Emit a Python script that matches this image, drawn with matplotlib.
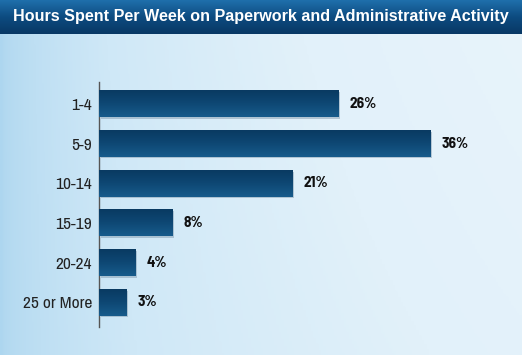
import numpy as np
import matplotlib
matplotlib.use('Agg')
import matplotlib.pyplot as plt
from matplotlib.colors import LinearSegmentedColormap
import matplotlib.transforms as mtransforms

# ---- data
categories = ['1-4', '5-9', '10-14', '15-19', '20-24', '25 or More']
percents = [26, 36, 21, 8, 4, 3]
title = 'Hours Spent Per Week on Paperwork and Administrative Activity'

W, H, DPI = 522, 355, 100
NARROW = ['Archivo Narrow', 'Liberation Sans', 'DejaVu Sans']
NARROW_BOLD = ['Barlow Semi Condensed', 'Liberation Sans', 'DejaVu Sans']

fig = plt.figure(figsize=(W / DPI, H / DPI), dpi=DPI)

# ---- background gradient
bg = fig.add_axes([0, 0, 1, 1], zorder=0)
bg.set_axis_off()
xx, yy = np.meshgrid(np.linspace(0, 1, 200), np.linspace(0, 1, 150))
t = np.clip(0.55 * np.sqrt(xx) + 0.25 * (1 - yy) * xx + 0.2 * xx, 0, 1)
bg_cmap = LinearSegmentedColormap.from_list('bg', ['#add6ef', '#cfe8f7', '#e2f1fa', '#e8f4fb'])
bg.imshow(t, cmap=bg_cmap, aspect='auto', extent=(0, 1, 0, 1), origin='upper')
bg.set_xlim(0, 1)
bg.set_ylim(0, 1)

# title bar
bar_h = 34 / H
tb = np.linspace(0, 1, 50).reshape(-1, 1)
tb_cmap = LinearSegmentedColormap.from_list('tb', ['#1f6fab', '#0d4b80', '#083865'])
bg.imshow(tb, cmap=tb_cmap, aspect='auto', extent=(0, 1, 1 - bar_h, 1), origin='upper', zorder=2)
bg.text(0.5, 1 - bar_h / 2, title, color='white', fontsize=11.6, fontweight='bold',
        family=['Liberation Sans', 'DejaVu Sans'], ha='center', va='center', zorder=3)

# ---- main axes
ax = fig.add_axes([99 / W, 28 / H, 423 / W, 245 / H], zorder=1)
ax.patch.set_alpha(0)
ax.set_xlim(0, 423 / 9.2)
ax.set_ylim(5.62, -0.555)

ypos = np.arange(len(categories))
height = 0.67
bar_cmap = LinearSegmentedColormap.from_list('bar', ['#093a62', '#0e4874', '#175b8b'])
grad = np.linspace(0, 1, 40).reshape(-1, 1)

shadow_tr = mtransforms.offset_copy(ax.transData, fig=fig, x=1.5, y=-1.5, units='dots')
bars = ax.barh(ypos, percents, height=height, color='#0c436f', zorder=3)
ax.barh(ypos, percents, height=height, color='#7a93a8', alpha=0.45, zorder=2,
        transform=shadow_tr)
for y, v in zip(ypos, percents):
    ax.imshow(grad, cmap=bar_cmap, aspect='auto', zorder=4,
              extent=(0, v, y + height / 2, y - height / 2), origin='upper')
    ax.annotate(f'{v}%', xy=(v, y), xytext=(8, 0), textcoords='offset points',
                ha='left', va='center', fontsize=11, fontweight='bold',
                family=NARROW_BOLD, color='#111111')

ax.set_yticks(ypos)
ax.set_yticklabels(categories, family=NARROW, fontsize=12.5, color='#222222')
ax.tick_params(axis='y', length=0, pad=5)
ax.set_xticks([])
for s in ['top', 'right', 'bottom']:
    ax.spines[s].set_visible(False)
ax.spines['left'].set_color('#555555')
ax.spines['left'].set_linewidth(1)

fig.savefig('out.png', dpi=DPI)
